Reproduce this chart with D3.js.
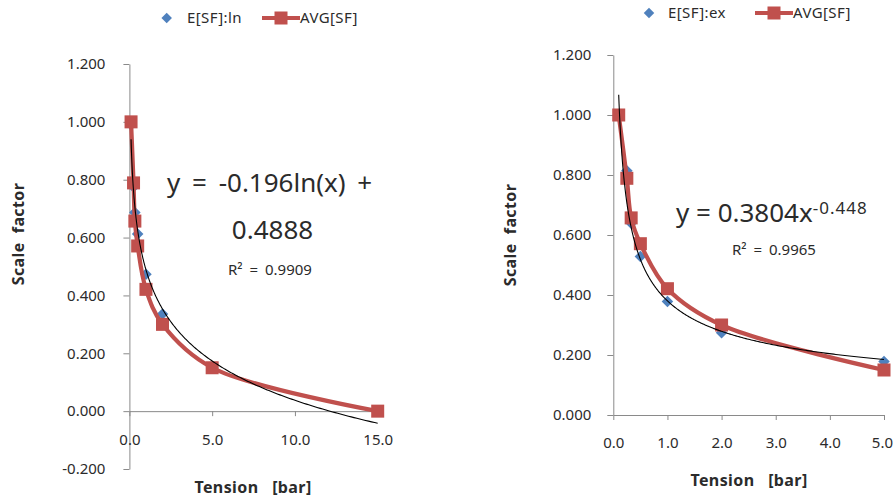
<!DOCTYPE html>
<html>
<head>
<meta charset="utf-8">
<script src="https://cdn.jsdelivr.net/npm/d3@7"></script>
<style>
  html, body { margin: 0; padding: 0; background: #fff; }
  svg { display: block; }
  text { font-family: "Noto Sans", "Open Sans", sans-serif; fill: #2b2b2b; white-space: pre; }
</style>
</head>
<body>
<svg id="chart" width="893" height="499"></svg>
<script>
// Tension steps [bar]
const tensionLn = [0.1, 0.25, 0.33, 0.5, 1, 2, 5, 15];
const tensionEx = [0.1, 0.25, 0.33, 0.5, 1, 2, 5];

// Averaged scale factor
const avgSF = [1.0, 0.789, 0.657, 0.571, 0.421, 0.300, 0.150, 0.0];

// Estimated scale factors
const estLn = [0.99, 0.775, 0.687, 0.612, 0.473, 0.336, 0.150, 0.0];
const estEx = [1.0, 0.814, 0.639, 0.528, 0.378, 0.274, 0.178];

// Trendline coefficients and fit quality
const lnCoef = [-0.196, 0.4888];   // y = a ln(x) + b
const lnR2 = 0.9909;
const powCoef = [0.3804, -0.448];  // y = a x^b
const powR2 = 0.9965;

// Axis ticks
const xTicksLn = [0, 5, 10, 15];
const yTicksLn = [-0.2, 0, 0.2, 0.4, 0.6, 0.8, 1.0, 1.2];
const xTicksEx = [0, 1, 2, 3, 4, 5];
const yTicksEx = [0, 0.2, 0.4, 0.6, 0.8, 1.0, 1.2];

const RED = "#c0504d", BLUE = "#4f81bd", AXIS = "#8a8a8a";
const loc = d3.formatLocale({decimal: ".", thousands: ",", grouping: [3], currency: ["", ""], minus: "-"});
const fmtY = loc.format(".3f"), fmtX = loc.format(".1f");

const svg = d3.select("#chart");

function drawPanel(p) {
  const g = svg.append("g");
  const x = d3.scaleLinear().domain(p.xDomain).range(p.xRange);
  const y = d3.scaleLinear().domain(p.yDomain).range(p.yRange);

  // axes
  const yAxis = g.append("g").attr("transform", `translate(${x(0)},0)`)
    .call(d3.axisLeft(y).tickValues(p.yTicks).tickFormat(fmtY).tickSize(6).tickSizeOuter(0).tickPadding(p.yPad));
  const xAxis = g.append("g").attr("transform", `translate(0,${y(0)})`)
    .call(d3.axisBottom(x).tickValues(p.xTicks).tickFormat(fmtX).tickSize(5).tickSizeOuter(0).tickPadding(p.xPad));
  [yAxis, xAxis].forEach(a => {
    a.selectAll("path, line").attr("stroke", AXIS);
    a.selectAll("text").style("font-size", "15px").attr("fill", "#2b2b2b").style("font-family", '"Noto Sans", sans-serif');
  });
  // keep the outermost x label inside the canvas
  if (p.lastLabelEnd) {
    xAxis.selectAll(".tick:last-of-type text")
      .attr("text-anchor", "end").attr("x", p.lastLabelEnd);
  }

  // estimated values (diamonds)
  const diamond = d3.symbol().type(d3.symbolDiamond2).size(p.diamondSize);
  g.append("g").selectAll("path").data(p.xs.map((v, i) => [v, p.est[i]]))
    .join("path")
    .attr("d", diamond)
    .attr("transform", d => `translate(${x(d[0])},${y(d[1])})`)
    .attr("fill", BLUE);

  // averaged scale factor: smoothed line with square markers
  const avgPts = p.xs.map((v, i) => [v, avgSF[i]]);
  g.append("path").datum(avgPts)
    .attr("d", d3.line().x(d => x(d[0])).y(d => y(d[1])).curve(d3.curveCatmullRom.alpha(0.5)))
    .attr("fill", "none").attr("stroke", RED).attr("stroke-width", 4.2).attr("stroke-linejoin", "round");
  g.append("g").selectAll("rect").data(avgPts).join("rect")
    .attr("x", d => x(d[0]) - 6.5).attr("y", d => y(d[1]) - 6.5)
    .attr("width", 13).attr("height", 13).attr("fill", RED);

  // fitted trendline
  const x0 = p.xs[0], x1 = p.xs[p.xs.length - 1];
  const trend = d3.range(0, 401).map(k => {
    const t = x0 * Math.pow(x1 / x0, k / 400);
    return [t, p.fit(t)];
  });
  g.append("path").datum(trend)
    .attr("d", d3.line().x(d => x(d[0])).y(d => y(d[1])))
    .attr("fill", "none").attr("stroke", "#000").attr("stroke-width", 1.1);

  // axis titles
  g.append("text").attr("transform", `translate(${p.yTitle[0]},${p.yTitle[1]}) rotate(-90)`)
    .attr("text-anchor", "middle").attr("dy", "0.35em")
    .style("font-size", "16px").style("font-weight", "bold").style("letter-spacing", "0.4px")
    .text("Scale  factor");
  g.append("text").attr("x", p.xTitle[0]).attr("y", p.xTitle[1])
    .attr("text-anchor", "middle").attr("dy", "0.35em")
    .style("font-size", "16px").style("font-weight", "bold").style("letter-spacing", "0.4px")
    .text("Tension   [bar]");

  // legend
  const lg = g.append("g");
  lg.append("path").attr("d", d3.symbol().type(d3.symbolDiamond2).size(70))
    .attr("transform", `translate(${p.legend.diamond},${p.legend.y})`).attr("fill", BLUE);
  lg.append("text").attr("x", p.legend.estText).attr("y", p.legend.y).attr("dy", "0.35em")
    .style("font-size", "15px").style("letter-spacing", "0.4px").text(p.estName);
  lg.append("line").attr("x1", p.legend.line[0]).attr("x2", p.legend.line[1])
    .attr("y1", p.legend.y).attr("y2", p.legend.y).attr("stroke", RED).attr("stroke-width", 4);
  lg.append("rect").attr("x", (p.legend.line[0] + p.legend.line[1]) / 2 - 6.5).attr("y", p.legend.y - 6.5)
    .attr("width", 13).attr("height", 13).attr("fill", RED);
  lg.append("text").attr("x", p.legend.line[1]).attr("y", p.legend.y).attr("dy", "0.35em")
    .style("font-size", "15px").style("letter-spacing", "0.4px").text("AVG[SF]");

  p.annotate(g);
}

drawPanel({
  xs: tensionLn, est: estLn, estName: "E[SF]:ln",
  xDomain: [0, 15], xRange: [129.4, 377.7], xTicks: xTicksLn,
  yDomain: [-0.2, 1.2], yRange: [469, 64], yTicks: yTicksLn,
  yPad: 18, xPad: 18, diamondSize: 85,
  fit: t => lnCoef[0] * Math.log(t) + lnCoef[1],
  yTitle: [18, 234], xTitle: [253, 487],
  legend: {y: 18, diamond: 166.7, estText: 187, line: [262, 300]},
  annotate: g => {
    g.append("text").attr("x", 167).attr("y", 192)
      .style("font-size", "26px").style("word-spacing", "5px")
      .text(`y = ${lnCoef[0]}ln(x) +`);
    g.append("text").attr("x", 272.5).attr("y", 239).attr("text-anchor", "middle")
      .style("font-size", "26px").text(`${lnCoef[1]}`);
    g.append("text").attr("x", 228).attr("y", 275)
      .style("font-size", "15px").style("word-spacing", "3px")
      .text(`R² = ${lnR2}`);
  }
});

drawPanel({
  xs: tensionEx, est: estEx, estName: "E[SF]:ex",
  xDomain: [0, 5], xRange: [613.3, 884], xTicks: xTicksEx,
  yDomain: [0, 1.2], yRange: [415, 55], yTicks: yTicksEx,
  yPad: 16, xPad: 17, diamondSize: 85, lastLabelEnd: 8.5,
  fit: t => powCoef[0] * Math.pow(t, powCoef[1]),
  yTitle: [510, 235], xTitle: [749, 480],
  legend: {y: 13, diamond: 649, estText: 668, line: [755, 793]},
  annotate: g => {
    const eq = g.append("text").attr("x", 676).attr("y", 221.5).style("font-size", "26px");
    eq.append("tspan").text(`y = ${powCoef[0]}x`);
    eq.append("tspan").attr("dy", -8).style("font-size", "17px").style("letter-spacing", "1px")
      .text(`${powCoef[1]}`);
    g.append("text").attr("x", 732).attr("y", 255)
      .style("font-size", "15px").style("word-spacing", "3px")
      .text(`R² = ${powR2}`);
  }
});
</script>
</body>
</html>
